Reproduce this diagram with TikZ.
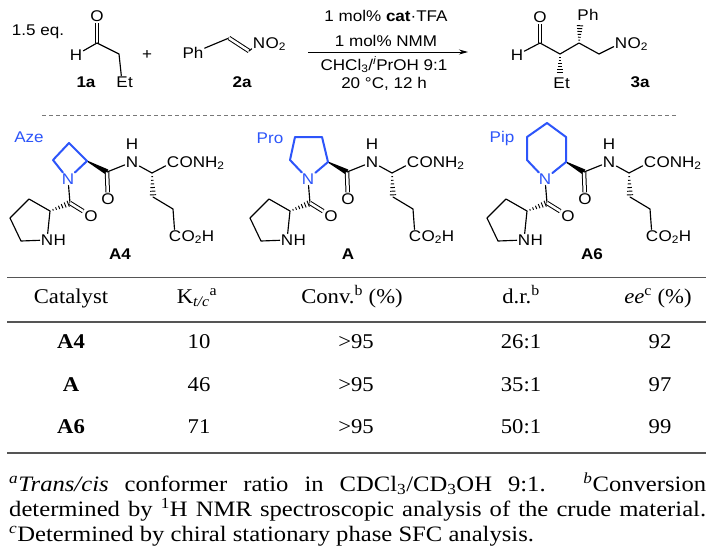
\documentclass[tikz,border=0pt]{standalone}
\usepackage{fontspec}
\setmainfont{Liberation Serif}[FakeStretch=1.08]
\newfontfamily\chemfont{Liberation Sans}[FakeStretch=1.1]
\newfontfamily\footfont{Liberation Serif}[FakeStretch=1.12]
\usetikzlibrary{calc,arrows.meta}
\definecolor{ringblue}{RGB}{45,85,250}
\definecolor{rulegray}{RGB}{85,85,85}
\definecolor{dashgray}{RGB}{120,120,120}
\tikzset{
 bond/.style={line width=1.15pt, line cap=round, line join=round},
 dbond/.style={double, double distance=2.5pt, line width=1pt},
 ringbond/.style={line width=2pt, draw=ringblue, line join=round, line cap=round},
 hashline/.style={line width=0.95pt},
 atom/.style={font=\chemfont\fontsize{15.5}{17}\selectfont, inner sep=1pt},
 batom/.style={atom, text=ringblue},
 rest/.style={atom, anchor=base west, inner sep=0pt},
 cpd/.style={font=\chemfont\bfseries\fontsize{15.5}{17}\selectfont, inner sep=0pt},
 cond/.style={font=\chemfont\fontsize{15.5}{17}\selectfont, inner sep=0pt},
 tab/.style={font=\fontsize{21}{25}\selectfont, anchor=base, inner sep=0pt},
 foot/.style={font=\footfont\fontsize{22}{26}\selectfont, anchor=base west, inner sep=0pt},
 rulethin/.style={line width=0.9pt, draw=rulegray},
 rulethick/.style={line width=2.6pt, draw=rulegray},
 rulemid/.style={line width=2pt, draw=rulegray},
}
% hashed wedge: #2 narrow end, #3 wide end, #1 half width at wide end
\newcommand\hbond[3][3]{%
  \foreach \k in {1,...,6}{%
    \pgfmathsetmacro\hbt{\k/6.6}%
    \pgfmathsetmacro\hbw{0.4+\hbt*#1}%
    \draw[hashline] ($(#2)!\hbt!(#3)!\hbw pt!90:(#2)$) -- ($(#2)!\hbt!(#3)!\hbw pt!-90:(#2)$);
  }}
% filled wedge: #2 narrow, #3 wide
\newcommand\wbond[3][2.8]{%
  \fill ($(#2)!0.5pt!90:(#3)$) -- ($(#2)!0.5pt!-90:(#3)$) -- ($(#3)!#1pt!90:(#2)$) -- ($(#3)!#1pt!-90:(#2)$) -- cycle;}
\newcommand\catbody[1]{%
 \node[batom] (#1N) at (68,179) {N};
 \coordinate (#1Ca) at (107,172);
 \node[atom] (#1Oa) at (108,199) {O};
 \node[atom] (#1Nam) at (132,162) {N};
 \node[atom] (#1Hn) at (132,144) {H};
 \coordinate (#1Cal) at (152,173);
 \node[atom] (#1Cc) at (173,162) {C};
 \node[rest] (#1Ccr) at ([xshift=-1pt]#1Cc.base east) {ONH\textsubscript{2}};
 \coordinate (#1Cb) at (153,197);
 \coordinate (#1Cg) at (173,209);
 \node[atom] (#1Cd) at (175,236) {C};
 \node[rest] (#1Cdr) at ([xshift=-1pt]#1Cd.base east) {O\textsubscript{2}H};
 \coordinate (#1Cp) at (70,203);
 \node[atom] (#1Op) at (91,216) {O};
 \coordinate (#1P2) at (50,211);
 \coordinate (#1P3) at (29,199);
 \coordinate (#1P4) at (10,218);
 \coordinate (#1P5) at (21,241);
 \node[atom] (#1PN) at (47,240) {N};
 \node[rest] (#1PNh) at ([xshift=-1pt]#1PN.base east) {H};
 \wbond{#1C2}{#1Ca}
 \draw[dbond] (#1Ca) -- (#1Oa);
 \draw[bond] (#1Ca) -- (#1Nam);
 \draw[bond] (#1Nam) -- (#1Cal) -- (#1Cc);
 \hbond{#1Cal}{#1Cb}
 \draw[bond] (#1Cb) -- (#1Cg) -- (#1Cd);
 \draw[bond] (#1N) -- (#1Cp);
 \draw[dbond] (#1Cp) -- (#1Op);
 \hbond{#1P2}{#1Cp}
 \draw[bond] (#1P2) -- (#1P3) -- (#1P4) -- (#1P5) -- (#1PN) -- (#1P2);
}
\begin{document}
\begin{tikzpicture}[x=1pt,y=-1pt]
\fill[white] (0,0) rectangle (717,558);
\useasboundingbox (0,0) rectangle (717,558);

% ---------- reaction scheme ----------
\node[cond] (eq) at (38,32) {1.5 eq.};
% 1a
\node[atom] (o1) at (97,16) {O};
\coordinate (c1) at (97,43);
\node[atom] (h1) at (76,55) {H};
\coordinate (c2) at (119,54);
\node[atom] (e1) at (122,82) {E};
\node[rest] (e1t) at ([xshift=-1pt]e1.base east) {t};
\draw[dbond] (c1) -- (o1);
\draw[bond] (h1) -- (c1) -- (c2) -- (e1);
\node[cpd] (l1a) at (86,82) {1a};
\node[cond] (plus) at (147,55) {+};
% 2a
\node[atom] (ph2) at (193,53) {Ph};
\coordinate (c4) at (229,38);
\coordinate (c5) at (249,51);
\node[atom] (n2) at (259,43) {N};
\node[rest] (n2o) at ([xshift=-1pt]n2.base east) {O\textsubscript{2}};
\draw[bond] (ph2) -- (c4);
\draw[dbond] (c4) -- (c5);
\draw[bond] (c5) -- (n2);
\node[cpd] (l2a) at (242,82) {2a};
% arrow
\coordinate (ar1) at (308,52);
\coordinate (ar2) at (468,52);
\draw[line width=0.9pt, -{Stealth[length=9pt,width=5pt]}] (ar1) -- (ar2);
\node[cond] (k1) at (386,16) {1 mol\% \textbf{cat}·TFA};
\node[cond] (k2) at (386,41) {1 mol\% NMM};
\node[cond] (k3) at (384,65) {CHCl\textsubscript{3}/\textsuperscript{\itshape i}PrOH 9:1};
\node[cond] (k4) at (384,84) {20 °C, 12 h};
% 3a
\node[atom] (o3) at (540,17) {O};
\coordinate (c6) at (540,43);
\node[atom] (h3) at (517,55) {H};
\coordinate (c7) at (560,54);
\coordinate (c7e) at (560,74);
\node[atom] (e3) at (559,83) {E};
\node[rest] (e3t) at ([xshift=-1pt]e3.base east) {t};
\coordinate (c8) at (579,43);
\coordinate (c8p) at (580,24);
\node[atom] (p3) at (583,15) {P};
\node[rest] (p3h) at ([xshift=-1pt]p3.base east) {h};
\coordinate (c9) at (599,54);
\node[atom] (n3) at (621,43) {N};
\node[rest] (n3o) at ([xshift=-1pt]n3.base east) {O\textsubscript{2}};
\draw[dbond] (c6) -- (o3);
\draw[bond] (h3) -- (c6) -- (c7) -- (c8) -- (c9) -- (n3);
\hbond{c7}{c7e}
\hbond{c8}{c8p}
\node[cpd] (l3a) at (640,82) {3a};

% dashed separator
\coordinate (d1) at (42,115);
\coordinate (d2) at (677,115);
\draw[dashgray, line width=0.9pt, dash pattern=on 4pt off 3pt] (d1) -- (d2);

% ---------- catalysts ----------
% A4 (Aze)
\begin{scope}
 \coordinate (aC2) at (87,161);
 \catbody{a}
 \coordinate (aR1) at (69,143);
 \coordinate (aR2) at (53,160);
 \draw[ringbond] (aN) -- (aC2) -- (aR1) -- (aR2) -- (aN);
 \node[batom] (aze) at (29,137) {Aze};
 \node[cpd] (aLab) at (120,254) {A4};
\end{scope}
% A (Pro)
\begin{scope}[xshift=240pt]
 \coordinate (bC2) at (88,162);
 \catbody{b}
 \coordinate (bR1) at (82,137);
 \coordinate (bR2) at (55,137);
 \coordinate (bR3) at (50,160);
 \draw[ringbond] (bN) -- (bC2) -- (bR1) -- (bR2) -- (bR3) -- (bN);
 \node[batom] (pro) at (30,138) {Pro};
 \node[cpd] (bLab) at (108,254) {A};
\end{scope}
% A6 (Pip)
\begin{scope}[xshift=477pt]
 \coordinate (cC2) at (89,162);
 \catbody{c}
 \coordinate (cR1) at (89,137);
 \coordinate (cR2) at (70,123);
 \coordinate (cR3) at (50,137);
 \coordinate (cR4) at (50,160);
 \draw[ringbond] (cN) -- (cC2) -- (cR1) -- (cR2) -- (cR3) -- (cR4) -- (cN);
 \node[batom] (pip) at (25,138) {Pip};
 \node[cpd] (cLab) at (115,254) {A6};
\end{scope}

% ---------- table ----------
\coordinate (t1a) at (7,277);   \coordinate (t1b) at (706,277);
\coordinate (t2a) at (7,322);   \coordinate (t2b) at (706,322);
\coordinate (t3a) at (7,453);   \coordinate (t3b) at (706,453);
\draw[rulethin] (t1a) -- (t1b);
\draw[rulethick] (t2a) -- (t2b);
\draw[rulemid] (t3a) -- (t3b);

\node[tab] (hcat) at (71,303) {Catalyst};
\node[tab] (hk) at (197,303) {K\textsubscript{\itshape t/c}\textsuperscript{a}};
\node[tab] (hconv) at (352,303) {Conv.\textsuperscript{b} (\%)};
\node[tab] (hdr) at (521,303) {d.r.\textsuperscript{b}};
\node[tab] (hee) at (658,303) {\textit{ee}\textsuperscript{c} (\%)};

\node[tab] (r1a) at (71,348) {\textbf{A4}};
\node[tab] (r1b) at (199,348) {10};
\node[tab] (r1c) at (356,348) {>95};
\node[tab] (r1d) at (521,348) {26:1};
\node[tab] (r1e) at (660,348) {92};

\node[tab] (r2a) at (71,391) {\textbf{A}};
\node[tab] (r2b) at (199,391) {46};
\node[tab] (r2c) at (356,391) {>95};
\node[tab] (r2d) at (521,391) {35:1};
\node[tab] (r2e) at (660,391) {97};

\node[tab] (r3a) at (71,433) {\textbf{A6}};
\node[tab] (r3b) at (199,433) {71};
\node[tab] (r3c) at (356,433) {>95};
\node[tab] (r3d) at (521,433) {50:1};
\node[tab] (r3e) at (660,433) {99};

% ---------- footnotes ----------
\node[foot] (f1) at (9,491) {\makebox[697pt][s]{\textsuperscript{\itshape a}\textit{Trans/cis} conformer ratio in CDCl\textsubscript{3}/CD\textsubscript{3}OH 9:1. \textsuperscript{\itshape b}Conversion}};
\node[foot] (f2) at (9,516) {\makebox[697pt][s]{determined by \textsuperscript{1}H NMR spectroscopic analysis of the crude material.}};
\node[foot] (f3) at (9,541) {\textsuperscript{\itshape c}Determined by chiral stationary phase SFC analysis.};
\end{tikzpicture}
\end{document}
